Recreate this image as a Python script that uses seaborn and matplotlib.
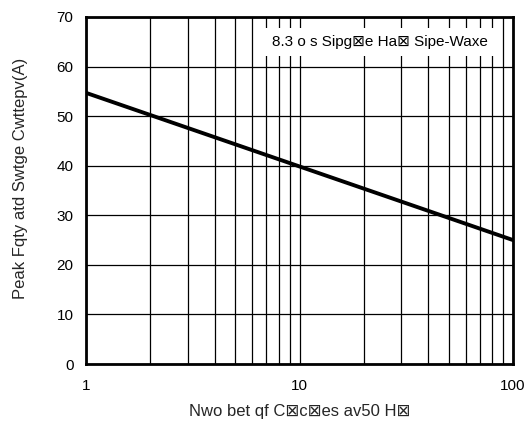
import matplotlib
matplotlib.use("Agg")
import matplotlib.pyplot as plt
import seaborn as sns
import pandas as pd
from matplotlib.ticker import FixedLocator, FixedFormatter, LogLocator, NullFormatter

cycles = [1, 100]
current = [54.7, 25.0]
x_ticks = [1, 10, 100]
x_tick_labels = ["1", "10", "100"]
y_ticks = [0, 10, 20, 30, 40, 50, 60, 70]

sns.set_style("white")
plt.rcParams['font.family'] = ['Liberation Sans', 'DejaVu Sans']

df = pd.DataFrame({"cycles": cycles, "current": current})

fig = plt.figure(figsize=(5.26, 4.21), dpi=100)
ax = fig.add_axes([86/526, 1 - 364/421, (513-86)/526, (364-17)/421])

sns.lineplot(data=df, x="cycles", y="current", ax=ax, color="black", linewidth=2.8, zorder=3)

ax.set_xscale("log")
ax.set_xlim(1, 100)
ax.set_ylim(0, 70)
ax.xaxis.set_major_locator(FixedLocator(x_ticks))
ax.xaxis.set_major_formatter(FixedFormatter(x_tick_labels))
ax.xaxis.set_minor_locator(LogLocator(base=10, subs=range(2, 10)))
ax.xaxis.set_minor_formatter(NullFormatter())
ax.set_yticks(y_ticks)

ax.grid(True, which="both", axis="x", color="black", linewidth=0.9)
ax.grid(True, which="major", axis="y", color="black", linewidth=0.9)
ax.set_axisbelow(True)

for s in ax.spines.values():
    s.set_color("black")
    s.set_linewidth(2)

ax.tick_params(axis="y", which="both", length=0, labelsize=11, colors="black", pad=9)
ax.tick_params(axis="x", which="both", length=0, labelsize=11, colors="black", pad=11)
ax.set_xlabel("Nwo bet qf C\u22a0c\u22a0es av50 H\u22a0", fontsize=12, labelpad=8)
ax.set_ylabel("Peak Fqty atd Swtge Cwttepv(A)", fontsize=12)
ax.yaxis.set_label_coords(-0.137, 0.536)

ax.text(0.941, 0.928, "8.3 o s Sipg\u22a0e Ha\u22a0 Sipe-Waxe", transform=ax.transAxes,
        ha="right", va="center", fontsize=11, color="black", zorder=4,
        bbox=dict(facecolor="white", edgecolor="none", pad=5))

fig.savefig("out.png", dpi=100)
